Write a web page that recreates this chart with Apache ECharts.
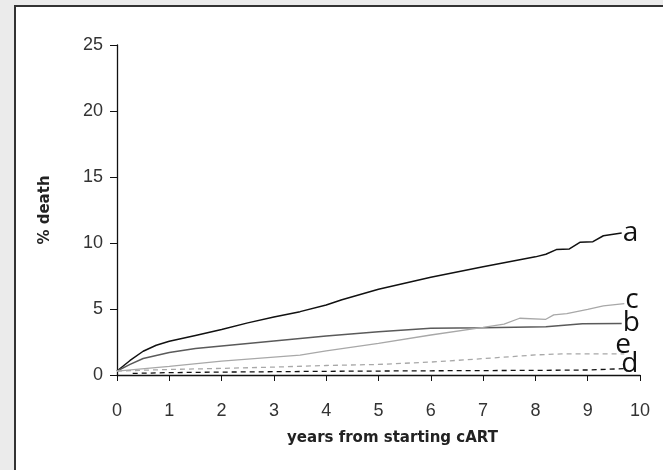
<!DOCTYPE html>
<html>
<head>
<meta charset="utf-8">
<script src="https://cdn.jsdelivr.net/npm/echarts@6/dist/echarts.min.js"></script>
<style>
html,body{margin:0;padding:0;background:#ebebeb;}
#chart{width:663px;height:470px;}
</style>
</head>
<body>
<div id="chart"></div>
<script>
var xTicks = [0, 1, 2, 3, 4, 5, 6, 7, 8, 9, 10];
var yTicks = [0, 5, 10, 15, 20, 25];
var seriesNames = ['a', 'b', 'c', 'd', 'e'];

var aYears = [0, 0.25, 0.5, 0.75, 1, 1.5, 2, 2.5, 3, 3.5, 4, 4.3, 5, 6, 7, 8, 8.2, 8.4, 8.65, 8.85, 9.1, 9.3, 9.65];
var aValues = [0.3, 1.1, 1.8, 2.25, 2.55, 3.0, 3.45, 3.95, 4.4, 4.8, 5.3, 5.7, 6.5, 7.4, 8.2, 8.95, 9.15, 9.5, 9.55, 10.05, 10.1, 10.55, 10.75];

var bYears = [0, 0.25, 0.5, 1, 1.5, 2, 3, 4, 5, 6, 7, 8.2, 8.9, 9.65];
var bValues = [0.3, 0.8, 1.25, 1.7, 2.0, 2.2, 2.58, 2.95, 3.28, 3.55, 3.58, 3.65, 3.88, 3.9];

var cYears = [0, 1, 2, 3.5, 4, 5, 6, 7, 7.4, 7.7, 8.2, 8.35, 8.6, 9, 9.3, 9.7];
var cValues = [0.3, 0.65, 1.05, 1.5, 1.82, 2.4, 3.03, 3.6, 3.85, 4.3, 4.22, 4.55, 4.65, 4.97, 5.23, 5.4];

var dYears = [0.3, 1, 2, 4, 6, 8, 9, 9.7];
var dValues = [0.12, 0.18, 0.22, 0.28, 0.32, 0.35, 0.38, 0.48];

var eYears = [0, 1, 2, 3, 4, 5, 6, 7, 8, 8.5, 9.7];
var eValues = [0.3, 0.42, 0.5, 0.6, 0.72, 0.8, 0.98, 1.24, 1.52, 1.6, 1.6];

function pairs(xs, ys) { return xs.map(function (x, i) { return [x, ys[i]]; }); }

var labelFont = '"Open Sans", "Noto Sans", sans-serif';
var tickFont = '"Liberation Sans", Arial, sans-serif';
var titleFont = '"DejaVu Sans", sans-serif';

function mkSeries(name, xs, ys, color, width, type, labelOffset) {
  return {
    name: name,
    type: 'line',
    data: pairs(xs, ys),
    showSymbol: false,
    symbol: 'none',
    smooth: false,
    lineStyle: { color: color, width: width, type: type },
    endLabel: {
      show: true,
      formatter: name,
      color: '#111',
      fontFamily: labelFont,
      fontSize: 28,
      distance: 1,
      offset: labelOffset || [0, 0]
    },
    animation: false,
    silent: true
  };
}

var chart = echarts.init(document.getElementById('chart'));
chart.setOption({
  animation: false,
  backgroundColor: '#ebebeb',
  graphic: [{
    type: 'rect',
    z: -10,
    shape: { x: 15, y: 6, width: 720, height: 520 },
    style: { fill: '#ffffff', stroke: '#333333', lineWidth: 2 }
  }],
  grid: { left: 117, right: 23, top: 45, bottom: 95, containLabel: false },
  xAxis: {
    type: 'value',
    min: 0, max: 10, interval: 1,
    name: 'years from starting cART',
    nameLocation: 'middle',
    nameGap: 56,
    nameTextStyle: { fontFamily: titleFont, fontWeight: 'bold', fontSize: 15, color: '#222', padding: [0, 0, 0, 28] },
    axisLine: { lineStyle: { color: '#111', width: 1.3 } },
    axisTick: { show: true, length: 6, lineStyle: { color: '#111', width: 1 } },
    axisLabel: { margin: 27, fontFamily: tickFont, fontSize: 18, color: '#333',
      formatter: function (v) { return xTicks.indexOf(v) >= 0 ? String(v) : ''; } },
    splitLine: { show: false }
  },
  yAxis: {
    type: 'value',
    min: 0, max: 25, interval: 5,
    name: '% death',
    nameLocation: 'middle',
    nameGap: 64,
    nameTextStyle: { fontFamily: titleFont, fontWeight: 'bold', fontSize: 15, color: '#222' },
    axisLine: { show: true, lineStyle: { color: '#111', width: 1.3 } },
    axisTick: { show: true, length: 7, lineStyle: { color: '#111', width: 1 } },
    axisLabel: { margin: 14, fontFamily: tickFont, fontSize: 18, color: '#333',
      formatter: function (v) { return yTicks.indexOf(v) >= 0 ? String(v) : ''; } },
    splitLine: { show: false }
  },
  series: [
    mkSeries(seriesNames[0], aYears, aValues, '#111111', 1.5, 'solid'),
    mkSeries(seriesNames[1], bYears, bValues, '#5a5a5a', 1.5, 'solid'),
    mkSeries(seriesNames[2], cYears, cValues, '#a8a8a8', 1.3, 'solid', [0, -4]),
    mkSeries(seriesNames[3], dYears, dValues, '#111111', 1.3, [5, 4], [-4, -5]),
    mkSeries(seriesNames[4], eYears, eValues, '#a8a8a8', 1.3, [5, 4], [-10, -9])
  ]
});
</script>
</body>
</html>
